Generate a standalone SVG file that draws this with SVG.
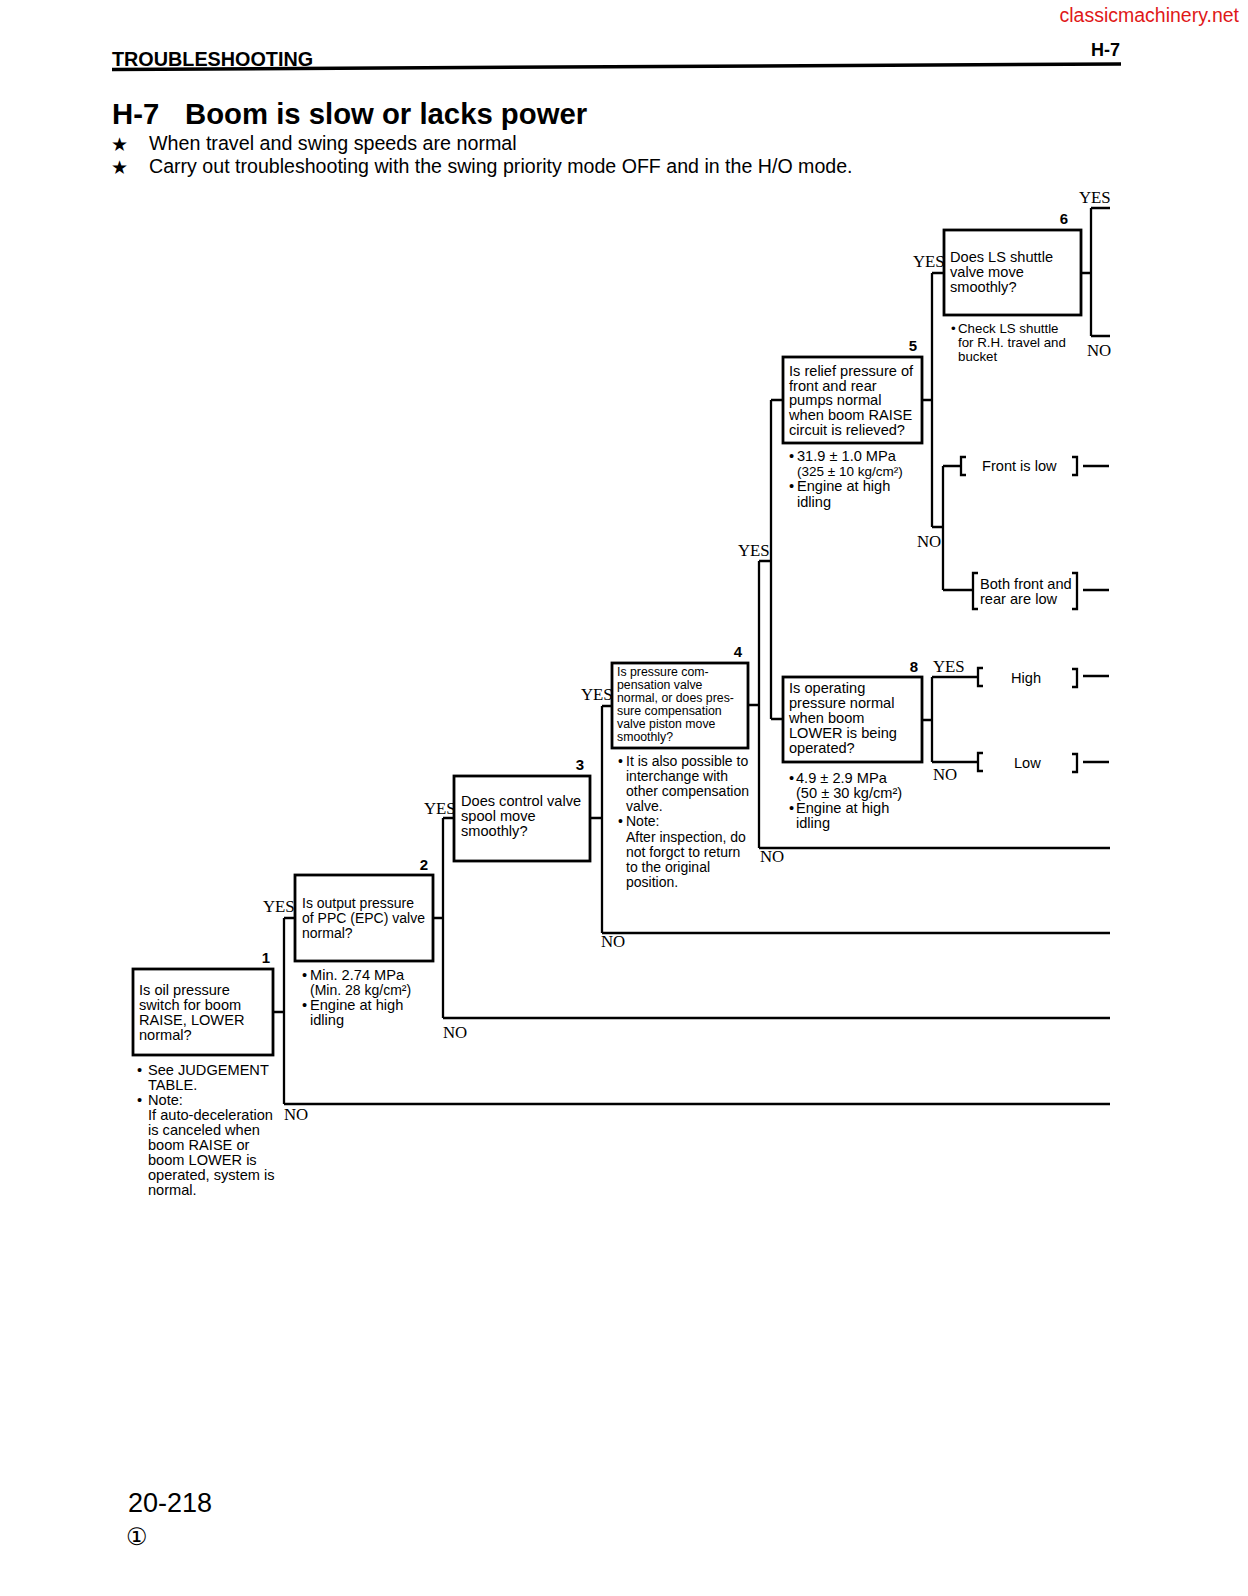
<svg xmlns="http://www.w3.org/2000/svg" width="1248" height="1596" viewBox="0 0 1248 1596">
<style>
.bg{fill:#fff}
.box{fill:#fff;stroke:#000;stroke-width:2.8}
.ln{stroke:#000;stroke-width:2.3;fill:none}
.t{font-family:"Liberation Sans",Arial,sans-serif;font-size:14.6px;fill:#000}
.t12{font-family:"Liberation Sans",Arial,sans-serif;font-size:12.3px;fill:#000}
.t13{font-family:"Liberation Sans",Arial,sans-serif;font-size:13.3px;fill:#000}
.yn{font-family:"Liberation Serif","Times New Roman",serif;font-size:16.8px;fill:#000}
.num{font-family:"Liberation Sans",Arial,sans-serif;font-size:15px;font-weight:bold;text-anchor:end;fill:#000}
</style>
<rect class="bg" x="0" y="0" width="1248" height="1596"/>

<g id="header">
<text x="1239" y="22" text-anchor="end" style="font-family:'Liberation Sans',Arial,sans-serif;font-size:19.5px;fill:#e01818">classicmachinery.net</text>
<text x="112" y="66" style="font-family:'Liberation Sans',Arial,sans-serif;font-size:19.8px;font-weight:bold">TROUBLESHOOTING</text>
<text x="1120" y="56" text-anchor="end" style="font-family:'Liberation Sans',Arial,sans-serif;font-size:18px;font-weight:bold">H-7</text>
<line x1="112" y1="69.5" x2="1121" y2="64" stroke="#000" stroke-width="3.5"/>
<text x="112" y="124" style="font-family:'Liberation Sans',Arial,sans-serif;font-size:29.3px;font-weight:bold">H-7</text>
<text x="185" y="124" style="font-family:'Liberation Sans',Arial,sans-serif;font-size:29.3px;font-weight:bold">Boom is slow or lacks power</text>
<text x="111" y="151" style="font-family:'DejaVu Sans',sans-serif;font-size:19px">★</text>
<text x="149" y="150" style="font-family:'Liberation Sans',Arial,sans-serif;font-size:19.7px">When travel and swing speeds are normal</text>
<text x="111" y="174" style="font-family:'DejaVu Sans',sans-serif;font-size:19px">★</text>
<text x="149" y="173" style="font-family:'Liberation Sans',Arial,sans-serif;font-size:19.6px">Carry out troubleshooting with the swing priority mode OFF and in the H/O mode.</text>
</g>

<g id="connectors">
<path class="ln" d="M273 1012 H284 M284 918 V1104 M284 918 H295 M284 1104 H1110"/>
<path class="ln" d="M433 918 H443 M443 818 V1018 M443 818 H454 M443 1018 H1110"/>
<path class="ln" d="M590 818 H602 M602 706 V933 M602 706 H612 M602 933 H1110"/>
<path class="ln" d="M748 705 H759 M759 561 V848 M759 561 H771 M771 400 V719 M771 400 H783 M771 719 H783 M759 848 H1110"/>
<path class="ln" d="M922 400 H932 M932 273 V527 M932 273 H944 M932 527 H943 M943 466 V590 M943 466 H961 M943 590 H973"/>
<path class="ln" d="M1081 273 H1091 M1091 208 V336 M1091 208 H1110 M1091 336 H1110"/>
<path class="ln" d="M922 720 H932 M932 677 V762 M932 677 H978 M932 762 H978"/>
<path class="ln" d="M966 457 H961 V475 H966 M1072 457 H1077 V475 H1072 M1083 466 H1109"/>
<path class="ln" d="M978 573 H973 V609 H978 M1072 573 H1077 V609 H1072 M1083 590 H1109"/>
<path class="ln" d="M983 668 H978 V686 H983 M1072 669 H1077 V687 H1072 M1083 676 H1109"/>
<path class="ln" d="M983 753 H978 V771 H983 M1072 754 H1077 V772 H1072 M1083 762 H1109"/>
</g>

<g id="labels">
<text class="yn" x="263" y="912">YES</text>
<text class="yn" x="284" y="1120">NO</text>
<text class="yn" x="424" y="814">YES</text>
<text class="yn" x="443" y="1038">NO</text>
<text class="yn" x="581" y="700">YES</text>
<text class="yn" x="601" y="947">NO</text>
<text class="yn" x="738" y="556">YES</text>
<text class="yn" x="760" y="862">NO</text>
<text class="yn" x="913" y="267">YES</text>
<text class="yn" x="917" y="547">NO</text>
<text class="yn" x="1079" y="203">YES</text>
<text class="yn" x="1087" y="356">NO</text>
<text class="yn" x="933" y="672">YES</text>
<text class="yn" x="933" y="780">NO</text>
</g>

<g id="node1">
<rect class="box" x="133" y="969" width="140" height="86"/>
<text class="num" x="270" y="963">1</text>
<text class="t"><tspan x="139" y="995">Is oil pressure</tspan><tspan x="139" y="1010">switch for boom</tspan><tspan x="139" y="1025">RAISE, LOWER</tspan><tspan x="139" y="1040">normal?</tspan></text>
<text class="t"><tspan x="137" y="1075">•</tspan><tspan x="148">See JUDGEMENT</tspan><tspan x="148" y="1090">TABLE.</tspan><tspan x="137" y="1105">•</tspan><tspan x="148">Note:</tspan><tspan x="148" y="1120">If auto-deceleration</tspan><tspan x="148" y="1135">is canceled when</tspan><tspan x="148" y="1150">boom RAISE or</tspan><tspan x="148" y="1165">boom LOWER is</tspan><tspan x="148" y="1180">operated, system is</tspan><tspan x="148" y="1195">normal.</tspan></text>
</g>

<g id="node2">
<rect class="box" x="295" y="875" width="138" height="86"/>
<text class="num" x="428" y="870">2</text>
<text class="t" style="font-size:14px"><tspan x="302" y="908">Is output pressure</tspan><tspan x="302" y="923">of PPC (EPC) valve</tspan><tspan x="302" y="938">normal?</tspan></text>
<text class="t"><tspan x="302" y="980">•</tspan><tspan x="310">Min. 2.74 MPa</tspan><tspan x="310" y="995" style="font-size:14px">(Min. 28 kg/cm²)</tspan><tspan x="302" y="1010">•</tspan><tspan x="310">Engine at high</tspan><tspan x="310" y="1025">idling</tspan></text>
</g>

<g id="node3">
<rect class="box" x="454" y="776" width="136" height="85"/>
<text class="num" x="584" y="770">3</text>
<text class="t"><tspan x="461" y="806">Does control valve</tspan><tspan x="461" y="821">spool move</tspan><tspan x="461" y="836">smoothly?</tspan></text>
</g>

<g id="node4">
<rect class="box" x="612" y="663" width="136" height="85"/>
<text class="num" x="742" y="657">4</text>
<text class="t12"><tspan x="617" y="676">Is pressure com-</tspan><tspan x="617" y="689">pensation valve</tspan><tspan x="617" y="702">normal, or does pres-</tspan><tspan x="617" y="715" style="font-size:12.4px">sure compensation</tspan><tspan x="617" y="728">valve piston move</tspan><tspan x="617" y="741">smoothly?</tspan></text>
<text class="t13" style="font-size:14px"><tspan x="618" y="766">•</tspan><tspan x="626">It is also possible to</tspan><tspan x="626" y="781">interchange with</tspan><tspan x="626" y="796">other compensation</tspan><tspan x="626" y="811">valve.</tspan><tspan x="618" y="826">•</tspan><tspan x="626">Note:</tspan><tspan x="626" y="842">After inspection, do</tspan><tspan x="626" y="857">not forgct to return</tspan><tspan x="626" y="872">to the original</tspan><tspan x="626" y="887">position.</tspan></text>
</g>

<g id="node5">
<rect class="box" x="783" y="357" width="139" height="86"/>
<text class="num" x="917" y="351">5</text>
<text class="t"><tspan x="789" y="376">Is relief pressure of</tspan><tspan x="789" y="391">front and rear</tspan><tspan x="789" y="405">pumps normal</tspan><tspan x="789" y="420">when boom RAISE</tspan><tspan x="789" y="435">circuit is relieved?</tspan></text>
<text class="t"><tspan x="789" y="461">•</tspan><tspan x="797">31.9 ± 1.0 MPa</tspan><tspan x="797" y="476" style="font-size:13.5px">(325 ± 10 kg/cm²)</tspan><tspan x="789" y="491">•</tspan><tspan x="797">Engine at high</tspan><tspan x="797" y="507">idling</tspan></text>
</g>

<g id="node6">
<rect class="box" x="944" y="230" width="137" height="85"/>
<text class="num" x="1068" y="224">6</text>
<text class="t"><tspan x="950" y="262">Does LS shuttle</tspan><tspan x="950" y="277">valve move</tspan><tspan x="950" y="292">smoothly?</tspan></text>
<text class="t13"><tspan x="951" y="333">•</tspan><tspan x="958">Check LS shuttle</tspan><tspan x="958" y="347">for R.H. travel and</tspan><tspan x="958" y="361">bucket</tspan></text>
</g>

<g id="node8">
<rect class="box" x="783" y="677" width="139" height="85"/>
<text class="num" x="918" y="672">8</text>
<text class="t"><tspan x="789" y="693">Is operating</tspan><tspan x="789" y="708">pressure normal</tspan><tspan x="789" y="723">when boom</tspan><tspan x="789" y="738">LOWER is being</tspan><tspan x="789" y="753">operated?</tspan></text>
<text class="t"><tspan x="789" y="783">•</tspan><tspan x="796">4.9 ± 2.9 MPa</tspan><tspan x="796" y="798">(50 ± 30 kg/cm²)</tspan><tspan x="789" y="813">•</tspan><tspan x="796">Engine at high</tspan><tspan x="796" y="828">idling</tspan></text>
</g>

<g id="results">
<text class="t" x="982" y="471">Front is low</text>
<text class="t"><tspan x="980" y="589">Both front and</tspan><tspan x="980" y="604">rear are low</tspan></text>
<text class="t" x="1011" y="683">High</text>
<text class="t" x="1014" y="768">Low</text>
</g>

<g id="footer">
<text x="128" y="1512" style="font-family:'Liberation Sans',Arial,sans-serif;font-size:27px">20-218</text>
<text x="126" y="1545" style="font-family:'DejaVu Sans','Noto Sans CJK JP',sans-serif;font-size:24px">①</text>
</g>
</svg>
